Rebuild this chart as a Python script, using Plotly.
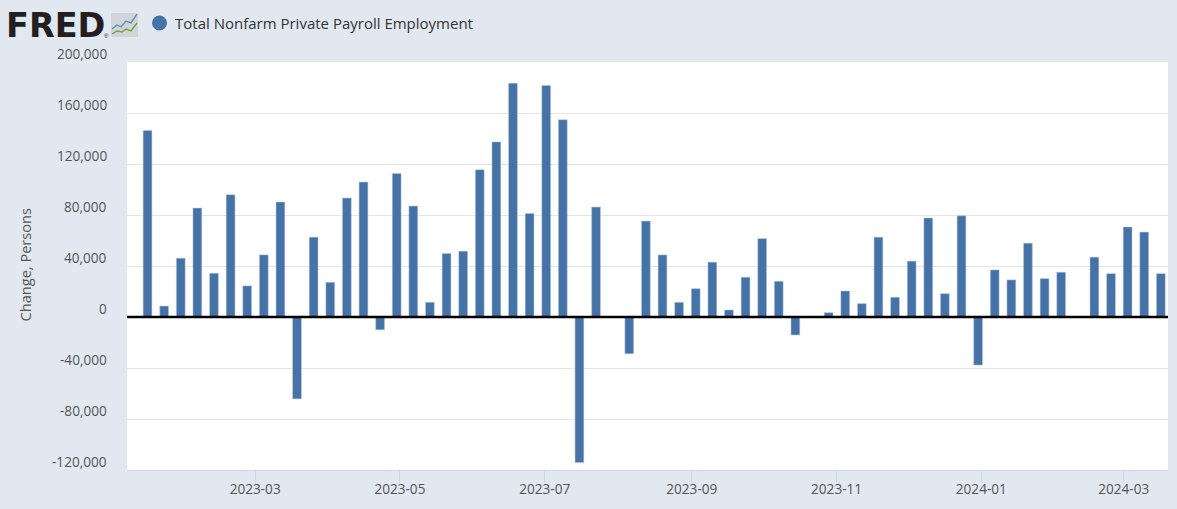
import pandas as pd
import plotly.graph_objects as go

# weekly change in private payrolls
dates = pd.date_range("2023-01-14", periods=62, freq="7D")
changes = [
    146200, 8600, 46100, 85400, 34300, 95900, 24400, 48700, 90100, -64200,
    62600, 27200, 93300, 105800, -10000, 112600, 87000, 11500, 49800, 51600,
    115500, 137300, 183400, 81200, 181600, 154800, -114200, 86200, 0, -28800,
    75200, 48700, 11500, 22200, 43000, 5500, 31200, 61500, 28000, -14100,
    0, 3400, 20400, 10500, 62600, 15500, 43800, 77600, 18300, 79400,
    -37700, 36900, 29100, 57900, 30100, 35100, 0, 46900, 34000, 70500,
    66600, 34000,
]
y_ticks = [-120000, -80000, -40000, 0, 40000, 80000, 120000, 160000, 200000]
series_name = "Total Nonfarm Private Payroll Employment"
y_title = "Change, Persons"

W, H = 1177, 509
L, R, T, B = 127, 9, 62, 39
DAY = 86400000
BG = "#e1e8f0"
BAR = "#4572a7"
TXT = "#555555"
FONT = "Open Sans"


# pixel position -> paper fraction (paper means the plot area here)
def px(x):
    return (x - L) / (W - L - R)


def py(y):
    return (H - B - y) / (H - B - T)


def path(points):
    return "M " + " L ".join(f"{px(x):.4f},{py(y):.4f}" for x, y in points)


fig = go.Figure()
fig.add_trace(go.Bar(
    x=dates,
    y=changes,
    width=3.7 * DAY,
    offset=-1.2 * DAY,
    marker=dict(color=BAR, line=dict(color="#b4c6dd", width=0.5)),
    name=series_name,
))

annots = []
# y labels sit above their gridlines, so they are annotations
for t in y_ticks:
    annots.append(dict(
        text=f"{t:,}", xref="paper", yref="y", x=px(108.5), y=t,
        xanchor="right", yanchor="middle", yshift=9, showarrow=False,
        font=dict(family=FONT, size=13.6, color=TXT),
    ))
annots.append(dict(
    text=series_name, xref="paper", yref="paper", x=px(173), y=py(23),
    xanchor="left", yanchor="middle", showarrow=False,
    font=dict(family=FONT, size=15, color="#333333"),
))
annots.append(dict(
    text=y_title, xref="paper", yref="paper", x=px(24), y=py(264.5),
    xanchor="center", yanchor="middle", textangle=-90, showarrow=False,
    font=dict(family=FONT, size=14.6, color=TXT),
))
# logo
annots.append(dict(
    text="FRED", xref="paper", yref="paper", x=px(4), y=py(25),
    xanchor="left", yanchor="middle", showarrow=False,
    font=dict(family="DejaVu Sans", size=33.5, color="#231f20", weight=700),
))
annots.append(dict(
    text="®", xref="paper", yref="paper", x=px(106), y=py(36),
    xanchor="center", yanchor="middle", showarrow=False,
    font=dict(family="Liberation Sans", size=6, color="#231f20"),
))

shapes = [
    # baseline over the bars
    dict(type="line", xref="paper", yref="y", x0=0, x1=1, y0=0, y1=0,
         line=dict(color="#000000", width=2.4), layer="above"),
    # legend dot
    dict(type="circle", xref="paper", yref="paper",
         x0=px(152), x1=px(167), y0=py(30.5), y1=py(15.5),
         fillcolor=BAR, line=dict(width=0)),
    # logo icon
    dict(type="rect", xref="paper", yref="paper",
         x0=px(111), x1=px(138), y0=py(37), y1=py(13),
         fillcolor="#d2d5d8", line=dict(width=0)),
    dict(type="path", xref="paper", yref="paper",
         path=path([(112, 29), (117, 25), (121, 27), (126, 21), (131, 23), (137, 14)]),
         line=dict(color="#5f90bd", width=1.4)),
    dict(type="path", xref="paper", yref="paper",
         path=path([(112, 34), (117, 31), (122, 32), (126, 29), (131, 31), (137, 23)]),
         line=dict(color="#76a045", width=1.4)),
]

fig.update_layout(
    width=W,
    height=H,
    margin=dict(l=L, r=R, t=T, b=B),
    paper_bgcolor=BG,
    plot_bgcolor="#ffffff",
    showlegend=False,
    annotations=annots,
    shapes=shapes,
    font=dict(family=FONT, color=TXT),
    xaxis=dict(
        type="date",
        range=["2023-01-06 00:00", "2024-03-19 16:00"],
        tick0="2023-03-01",
        dtick="M2",
        tickformat="%Y-%m",
        ticks="outside",
        ticklen=12,
        ticklabelstandoff=-5,
        tickcolor="#ccd6eb",
        tickwidth=1,
        showline=True,
        linecolor="#ccd6eb",
        linewidth=1,
        showgrid=False,
        zeroline=False,
        tickfont=dict(family=FONT, size=13.6, color=TXT),
    ),
    yaxis=dict(
        range=[-120000, 200000],
        tickvals=y_ticks,
        showticklabels=False,
        gridcolor="#e6e6e6",
        gridwidth=1,
        zeroline=False,
        showline=False,
    ),
)

fig.write_html("out.html", config=dict(displayModeBar=False),
               post_script="document.body.style.margin='0';")
